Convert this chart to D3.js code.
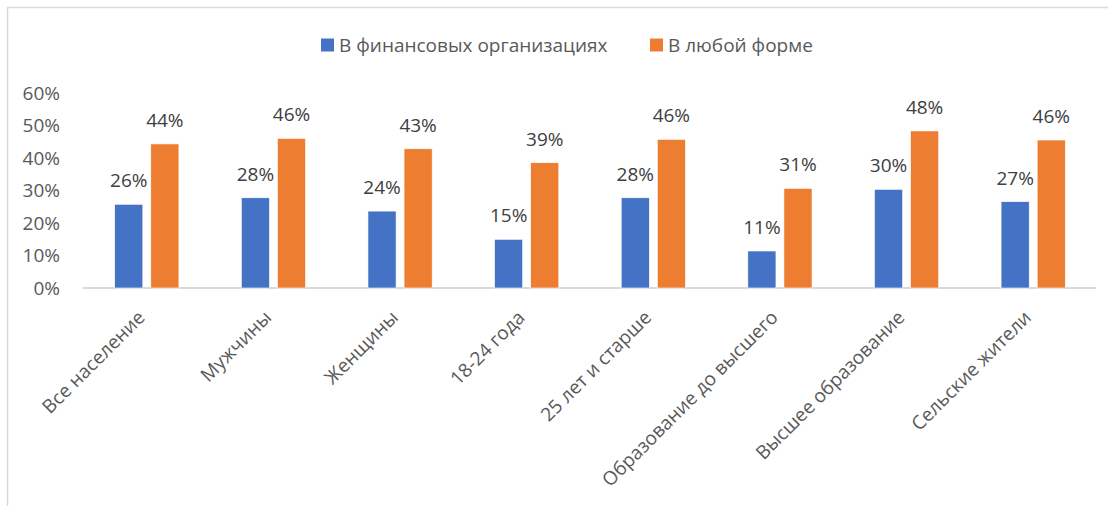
<!DOCTYPE html>
<html>
<head>
<meta charset="utf-8">
<script src="https://cdn.jsdelivr.net/npm/d3@7"></script>
<style>
  body { margin: 0; background: #fff; }
  text { font-family: "Open Sans", "Noto Sans", sans-serif; }
</style>
</head>
<body>
<div class="vis-barchart"></div>
<script>
const categories = ["Все население", "Мужчины", "Женщины", "18-24 года", "25 лет и старше",
    "Образование до высшего", "Высшее образование", "Сельские жители"];
const seriesNames = ["В финансовых организациях", "В любой форме"];
const finOrg = [25.8, 27.8, 23.7, 15.0, 27.8, 11.4, 30.4, 26.6];
const anyForm = [44.4, 46.1, 42.9, 38.6, 45.8, 30.7, 48.4, 45.6];
const yTicks = [0, 10, 20, 30, 40, 50, 60];
const colors = ["#4472C4", "#ED7D31"];

const width = 1108, height = 506;
const plot = {left: 83, right: 1096, top: 93.3, bottom: 288};
const fontSize = "19px";

const svg = d3.select(".vis-barchart")
    .append("svg")
    .attr("width", width)
    .attr("height", height);

// chart frame
svg.append("path")
    .attr("d", `M7.5,${height} V7.5 H${width}`)
    .attr("fill", "none")
    .attr("stroke", "#d9d9d9")
    .attr("stroke-width", 1.5);

const x = d3.scaleBand()
    .domain(categories)
    .range([plot.left, plot.right]);

const y = d3.scaleLinear()
    .domain([0, 60])
    .range([plot.bottom, plot.top]);

const bw = x.bandwidth();
const barW = bw * 0.222,
    gap = bw * 0.063;

// y axis
const yAxis = svg.append("g")
    .attr("transform", `translate(${plot.left - 20}, 0)`)
    .call(d3.axisLeft(y).tickValues(yTicks).tickSize(0).tickFormat(d => d + "%"));
yAxis.select(".domain").remove();
yAxis.selectAll("text")
    .attr("fill", "#595959")
    .style("font-size", fontSize)
    .style("font-family", "'Open Sans', sans-serif");

// baseline
svg.append("line")
    .attr("x1", plot.left).attr("x2", plot.right)
    .attr("y1", plot.bottom).attr("y2", plot.bottom)
    .attr("stroke", "#d9d9d9")
    .attr("stroke-width", 2);

// bars
const rows = categories.map((c, i) => ({cat: c, values: [finOrg[i], anyForm[i]]}));

const groups = svg.selectAll(".group")
    .data(rows)
    .enter().append("g")
    .attr("class", "group")
    .attr("transform", d => `translate(${x(d.cat) + bw / 2}, 0)`);

const barX = k => k === 0 ? -gap / 2 - barW + 0.5 : gap / 2 + 0.5;

groups.selectAll("rect")
    .data(d => d.values)
    .enter().append("rect")
    .attr("class", "data-item")
    .attr("x", (d, k) => barX(k))
    .attr("y", d => y(d))
    .attr("width", barW)
    .attr("height", d => plot.bottom - y(d))
    .attr("fill", (d, k) => colors[k])
    .attr("stroke", "#fff")
    .attr("stroke-width", 0.6);

groups.selectAll(".label")
    .data(d => d.values)
    .enter().append("text")
    .attr("class", "label")
    .attr("x", (d, k) => barX(k) + barW / 2)
    .attr("y", d => y(d) - 17)
    .attr("text-anchor", "middle")
    .attr("fill", "#404040")
    .style("font-size", fontSize)
    .text(d => Math.round(d) + "%");

// category labels
svg.selectAll(".cat")
    .data(categories)
    .enter().append("text")
    .attr("class", "cat")
    .attr("text-anchor", "end")
    .attr("dy", "0.35em")
    .attr("transform", d => `translate(${x(d) + bw / 2 - 5}, 314) rotate(-45)`)
    .attr("fill", "#595959")
    .style("font-size", fontSize)
    .text(d => d);

// legend
const legend = svg.append("g").attr("class", "legend");
const legendX = [321, 650];
const items = legend.selectAll("g")
    .data(seriesNames)
    .enter().append("g")
    .attr("transform", (d, i) => `translate(${legendX[i]}, 45)`);
items.append("rect")
    .attr("x", 0).attr("y", -6.5)
    .attr("width", 13).attr("height", 13)
    .attr("fill", (d, i) => colors[i]);
items.append("text")
    .attr("x", 18)
    .attr("dy", "0.35em")
    .attr("fill", "#595959")
    .style("font-size", fontSize)
    .text(d => d);
</script>
</body>
</html>
